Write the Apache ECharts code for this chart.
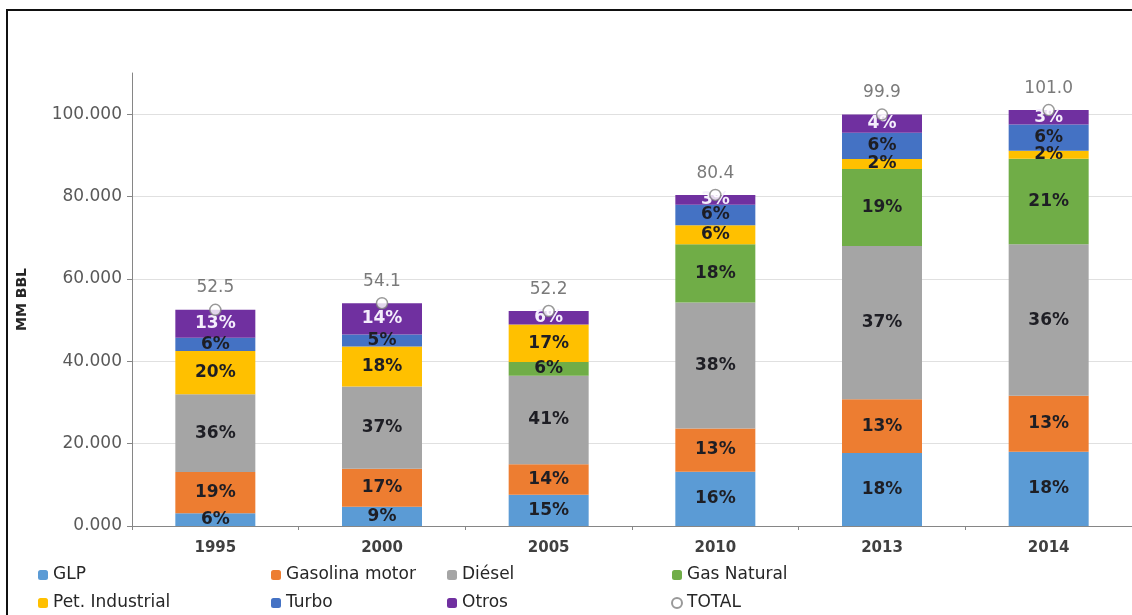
<!DOCTYPE html>
<html>
<head>
<meta charset="utf-8">
<script src="https://cdn.jsdelivr.net/npm/echarts@6/dist/echarts.min.js"></script>
<style>
  html, body { margin: 0; padding: 0; background: #ffffff; }
  #chart { width: 1132px; height: 615px; }
</style>
</head>
<body>
<div id="chart"></div>
<script>
// Years on the category axis
const years = ['1995', '2000', '2005', '2010', '2013', '2014'];

// Demand by product, MM BBL
const glp           = [3.1, 4.7, 7.6, 13.2, 17.7, 18.0];
const gasolina      = [10.0, 9.2, 7.4, 10.5, 13.1, 13.6];
const diesel        = [18.9, 20.0, 21.5, 30.6, 37.2, 36.8];
const gasNatural    = [0, 0, 3.3, 14.1, 18.7, 20.8];
const petIndustrial = [10.5, 9.7, 9.1, 4.6, 2.4, 1.9];
const turbo         = [3.2, 2.9, 0, 5.0, 6.4, 6.4];
const otros         = [6.8, 7.6, 3.3, 2.4, 4.4, 3.5];

// Value-axis ticks
const yTicks = [0, 20, 40, 60, 80, 100];

const products = [
  { name: 'GLP',             data: glp,           color: '#5B9BD5' },
  { name: 'Gasolina motor',  data: gasolina,      color: '#ED7D31' },
  { name: 'Diésel',          data: diesel,        color: '#A5A5A5' },
  { name: 'Gas Natural',     data: gasNatural,    color: '#70AD47' },
  { name: 'Pet. Industrial', data: petIndustrial, color: '#FFC000' },
  { name: 'Turbo',           data: turbo,         color: '#4472C4' },
  { name: 'Otros',           data: otros,         color: '#7030A0' }
];

// Yearly total = sum of the stacked products
const totals = years.map((_, i) =>
  Math.round(products.reduce((s, p) => s + p.data[i], 0) * 10) / 10);

const FONT = 'DejaVu Sans';

const barSeries = products.map(p => ({
  name: p.name,
  type: 'bar',
  stack: 'total',
  barWidth: 80,
  data: p.data,
  itemStyle: { color: p.color },
  label: {
    show: true,
    position: 'inside',
    fontFamily: FONT,
    fontWeight: 'bold',
    fontSize: 17,
    color: p.name === 'Otros' ? '#f4eefc' : '#1e1e24',
    formatter: prm => prm.value > 0
      ? Math.round(prm.value / totals[prm.dataIndex] * 100) + '%'
      : ''
  },
  emphasis: { disabled: true },
  silent: true
}));

const totalSeries = {
  name: 'TOTAL',
  type: 'scatter',
  data: totals,
  symbol: 'circle',
  symbolSize: 11,
  z: 5,
  itemStyle: { color: '#ffffff', borderColor: '#7f7f7f', borderWidth: 1.5 },
  label: {
    show: true,
    position: 'top',
    distance: 7,
    fontFamily: FONT,
    fontSize: 17,
    color: '#595959',
    formatter: prm => prm.value.toFixed(1)
  },
  emphasis: { disabled: true },
  silent: true
};

const legendText = { fontFamily: FONT, fontSize: 17, color: '#262626', lineHeight: 18 };
function legendColumn(left, names) {
  return {
    orient: 'vertical',
    left: left,
    top: 566,
    padding: 0,
    itemWidth: 10,
    itemHeight: 10,
    itemGap: 10,
    selectedMode: false,
    textStyle: legendText,
    data: names
  };
}

const chart = echarts.init(document.getElementById('chart'), null, { renderer: 'canvas' });
chart.setOption({
  backgroundColor: '#ffffff',
  animation: false,
  graphic: [{
    type: 'rect',
    shape: { x: 7, y: 10, width: 1300, height: 800 },
    style: { fill: 'none', stroke: '#111111', lineWidth: 2 },
    silent: true
  }],
  grid: { left: 132, right: -14, top: 73, bottom: 89 },
  legend: [
    legendColumn(38, ['GLP', 'Pet. Industrial']),
    legendColumn(271, ['Gasolina motor', 'Turbo']),
    legendColumn(447, ['Diésel', 'Otros']),
    legendColumn(671, ['Gas Natural', { name: 'TOTAL', icon: 'circle' }])
  ],
  xAxis: {
    type: 'category',
    data: years,
    axisLine: { lineStyle: { color: '#868686', width: 1 } },
    axisTick: { show: true, length: 4, lineStyle: { color: '#868686' } },
    axisLabel: {
      fontFamily: FONT, fontWeight: 'bold', fontSize: 15, color: '#404040', margin: 15
    }
  },
  yAxis: {
    type: 'value',
    min: 0,
    max: 110,
    interval: 20,
    name: 'MM BBL',
    nameLocation: 'middle',
    nameGap: 103,
    nameTextStyle: { fontFamily: FONT, fontWeight: 'bold', fontSize: 14, color: '#262626' },
    axisLine: { show: true, lineStyle: { color: '#868686', width: 1 } },
    axisTick: { show: true, length: 5, customValues: yTicks, lineStyle: { color: '#868686' } },
    axisLabel: {
      customValues: yTicks,
      fontFamily: FONT, fontSize: 17, color: '#595959', margin: 10,
      formatter: v => v.toFixed(3)
    },
    splitLine: { show: true, lineStyle: { color: '#e0e0e0', width: 1 } }
  },
  series: [...barSeries, totalSeries]
});
</script>
</body>
</html>
